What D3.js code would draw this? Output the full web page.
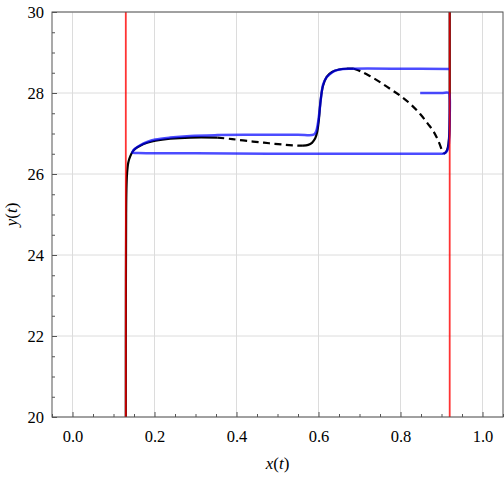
<!DOCTYPE html>
<html>
<head>
<meta charset="utf-8">
<script src="https://cdn.jsdelivr.net/npm/d3@7"></script>
<style>
  body { margin: 0; background: white; }
  svg text { font-family: "Liberation Serif", "DejaVu Serif", serif; }
</style>
</head>
<body>
<script>
const width = 504, height = 477;
const margin = {top: 12, right: 1, bottom: 60, left: 52};

// tick values
const xTicks = [0.0, 0.2, 0.4, 0.6, 0.8, 1.0];
const yTicks = [20, 22, 24, 26, 28, 30];

// vertical red lines
const redLinesX = [0.13, 0.92];

// black trajectory, split into solid and dashed pieces
const blackSolid1 = [[0.13,20],[0.1302,23],[0.1308,25],[0.1315,25.6],[0.133,26.0],[0.136,26.28],[0.141,26.44],
  [0.148,26.57],[0.155,26.64],[0.165,26.7],[0.182,26.77],[0.202,26.82],[0.238,26.87],[0.287,26.9],[0.353,26.9]];
const blackDash1 = [[0.353,26.9],[0.39,26.86],[0.44,26.8],[0.48,26.76],[0.52,26.72],[0.555,26.7],[0.562,26.7]];
const blackSolid2 = [[0.562,26.7],[0.575,26.72],[0.584,26.77],[0.592,26.88],[0.597,27.05],[0.601,27.35],[0.605,27.8],
  [0.611,28.18],[0.62,28.4],[0.633,28.52],[0.65,28.58],[0.67,28.6],[0.686,28.6]];
const blackDash2 = [[0.686,28.6],[0.702,28.54],[0.725,28.42],[0.75,28.27],[0.775,28.1],[0.8,27.93],[0.825,27.72],
  [0.848,27.48],[0.866,27.25],[0.88,27.06],[0.893,26.8],[0.902,26.56],[0.905,26.5]];
const blackSolid3 = [[0.905,26.5],[0.91,26.53],[0.914,26.6],[0.917,26.75],[0.919,27.0],[0.92,27.5],[0.92,28.5],[0.92,30]];

// blue trajectory
const blueLine = [[0.848,28.0],[0.9,28.0],[0.918,28.0],[0.92,27.9],[0.92,27.4],[0.919,26.9],[0.917,26.68],[0.913,26.56],
  [0.907,26.51],[0.898,26.5],[0.85,26.5],[0.6,26.5],[0.3,26.51],[0.16,26.52],[0.146,26.53],[0.148,26.58],
  [0.153,26.63],[0.165,26.71],[0.182,26.79],[0.202,26.85],[0.238,26.9],[0.287,26.94],[0.353,26.96],[0.45,26.97],
  [0.55,26.97],[0.588,26.97],[0.594,27.05],[0.599,27.28],[0.603,27.6],[0.606,27.88],[0.611,28.2],[0.618,28.36],
  [0.624,28.43],[0.636,28.53],[0.66,28.59],[0.68,28.6],[0.8,28.6],[0.92,28.59]];

const svg = d3.select("body").append("svg")
    .attr("width", width)
    .attr("height", height);

svg.append("rect")
    .attr("width", width)
    .attr("height", height)
    .attr("fill", "white");

const x = d3.scaleLinear().domain([-0.05, 1.05]).range([margin.left, width - margin.right]);
const y = d3.scaleLinear().domain([20, 30]).range([height - margin.bottom, margin.top]);

const g = svg.append("g");

// grid
g.selectAll(".gx").data(xTicks).enter().append("line")
    .attr("x1", d => x(d)).attr("x2", d => x(d))
    .attr("y1", y(20)).attr("y2", y(30))
    .attr("stroke", "#dcdcdc").attr("stroke-width", 1);
g.selectAll(".gy").data(yTicks).enter().append("line")
    .attr("x1", x(-0.05)).attr("x2", x(1.05))
    .attr("y1", d => y(d)).attr("y2", d => y(d))
    .attr("stroke", "#dcdcdc").attr("stroke-width", 1);

const line = d3.line().x(d => x(d[0])).y(d => y(d[1])).curve(d3.curveCatmullRom);

const plot = svg.append("g");
[blackSolid1, blackSolid2, blackSolid3].forEach(seg => {
    plot.append("path").attr("d", line(seg))
        .attr("fill", "none").attr("stroke", "black").attr("stroke-width", 2.2);
});
[blackDash1, blackDash2].forEach(seg => {
    plot.append("path").attr("d", line(seg))
        .attr("fill", "none").attr("stroke", "black").attr("stroke-width", 2.2)
        .attr("stroke-dasharray", "7,4.5");
});

plot.append("path").attr("d", line(blueLine))
    .attr("fill", "none").attr("stroke", "blue").attr("stroke-opacity", 0.7)
    .attr("stroke-width", 2.5).attr("stroke-linejoin", "round");

plot.selectAll(".red").data(redLinesX).enter().append("line")
    .attr("x1", d => x(d)).attr("x2", d => x(d))
    .attr("y1", y(20)).attr("y2", y(30))
    .attr("stroke", "red").attr("stroke-opacity", 0.8).attr("stroke-width", 1.8);

// axes
const fontFam = "'Liberation Serif', 'DejaVu Serif', serif";
const xAxis = d3.axisBottom(x).tickValues(xTicks).tickFormat(d3.format(".1f")).tickSizeInner(-5).tickSizeOuter(0).tickPadding(13);
const xMinor = d3.axisBottom(x).tickValues(d3.range(-0.05, 1.051, 0.05).filter(v => Math.abs(Math.round(v * 20) % 4) !== 0)).tickFormat("").tickSizeInner(-3).tickSizeOuter(0);
const yAxis = d3.axisLeft(y).tickValues(yTicks).tickSizeInner(-5).tickSizeOuter(0).tickPadding(8);
const yMinor = d3.axisLeft(y).tickValues(d3.range(20, 30.01, 0.5).filter(v => v % 2 !== 0)).tickFormat("").tickSizeInner(-3).tickSizeOuter(0);

const axColor = "#555";
function styleAxis(sel) {
    sel.attr("font-family", fontFam);
    sel.select(".domain").remove();
    sel.selectAll("line").attr("stroke", axColor);
    sel.selectAll("text").attr("fill", "black").style("font-size", "16.5px")
        .style("font-family", fontFam);
}

svg.append("g").attr("transform", `translate(0,${y(20)})`).call(xMinor).call(styleAxis);
svg.append("g").attr("transform", `translate(0,${y(20)})`).call(xAxis).call(styleAxis);
svg.append("g").attr("transform", `translate(${x(-0.05)},0)`).call(yMinor).call(styleAxis);
svg.append("g").attr("transform", `translate(${x(-0.05)},0)`).call(yAxis).call(styleAxis);

// frame
svg.append("rect")
    .attr("x", x(-0.05)).attr("y", y(30))
    .attr("width", x(1.05) - x(-0.05)).attr("height", y(20) - y(30))
    .attr("fill", "none").attr("stroke", axColor).attr("stroke-width", 1);

// axis labels
const xl = svg.append("text")
    .attr("x", (x(-0.05) + x(1.05)) / 2).attr("y", 469)
    .attr("text-anchor", "middle").style("font-size", "17px").style("font-family", fontFam);
xl.append("tspan").style("font-style", "italic").text("x");
xl.append("tspan").text("(");
xl.append("tspan").style("font-style", "italic").text("t");
xl.append("tspan").text(")");

const yl = svg.append("text")
    .attr("transform", `translate(17,${(y(20) + y(30)) / 2}) rotate(-90)`)
    .attr("text-anchor", "middle").style("font-size", "17px").style("font-family", fontFam);
yl.append("tspan").style("font-style", "italic").text("y");
yl.append("tspan").text("(");
yl.append("tspan").style("font-style", "italic").text("t");
yl.append("tspan").text(")");
</script>
</body>
</html>
